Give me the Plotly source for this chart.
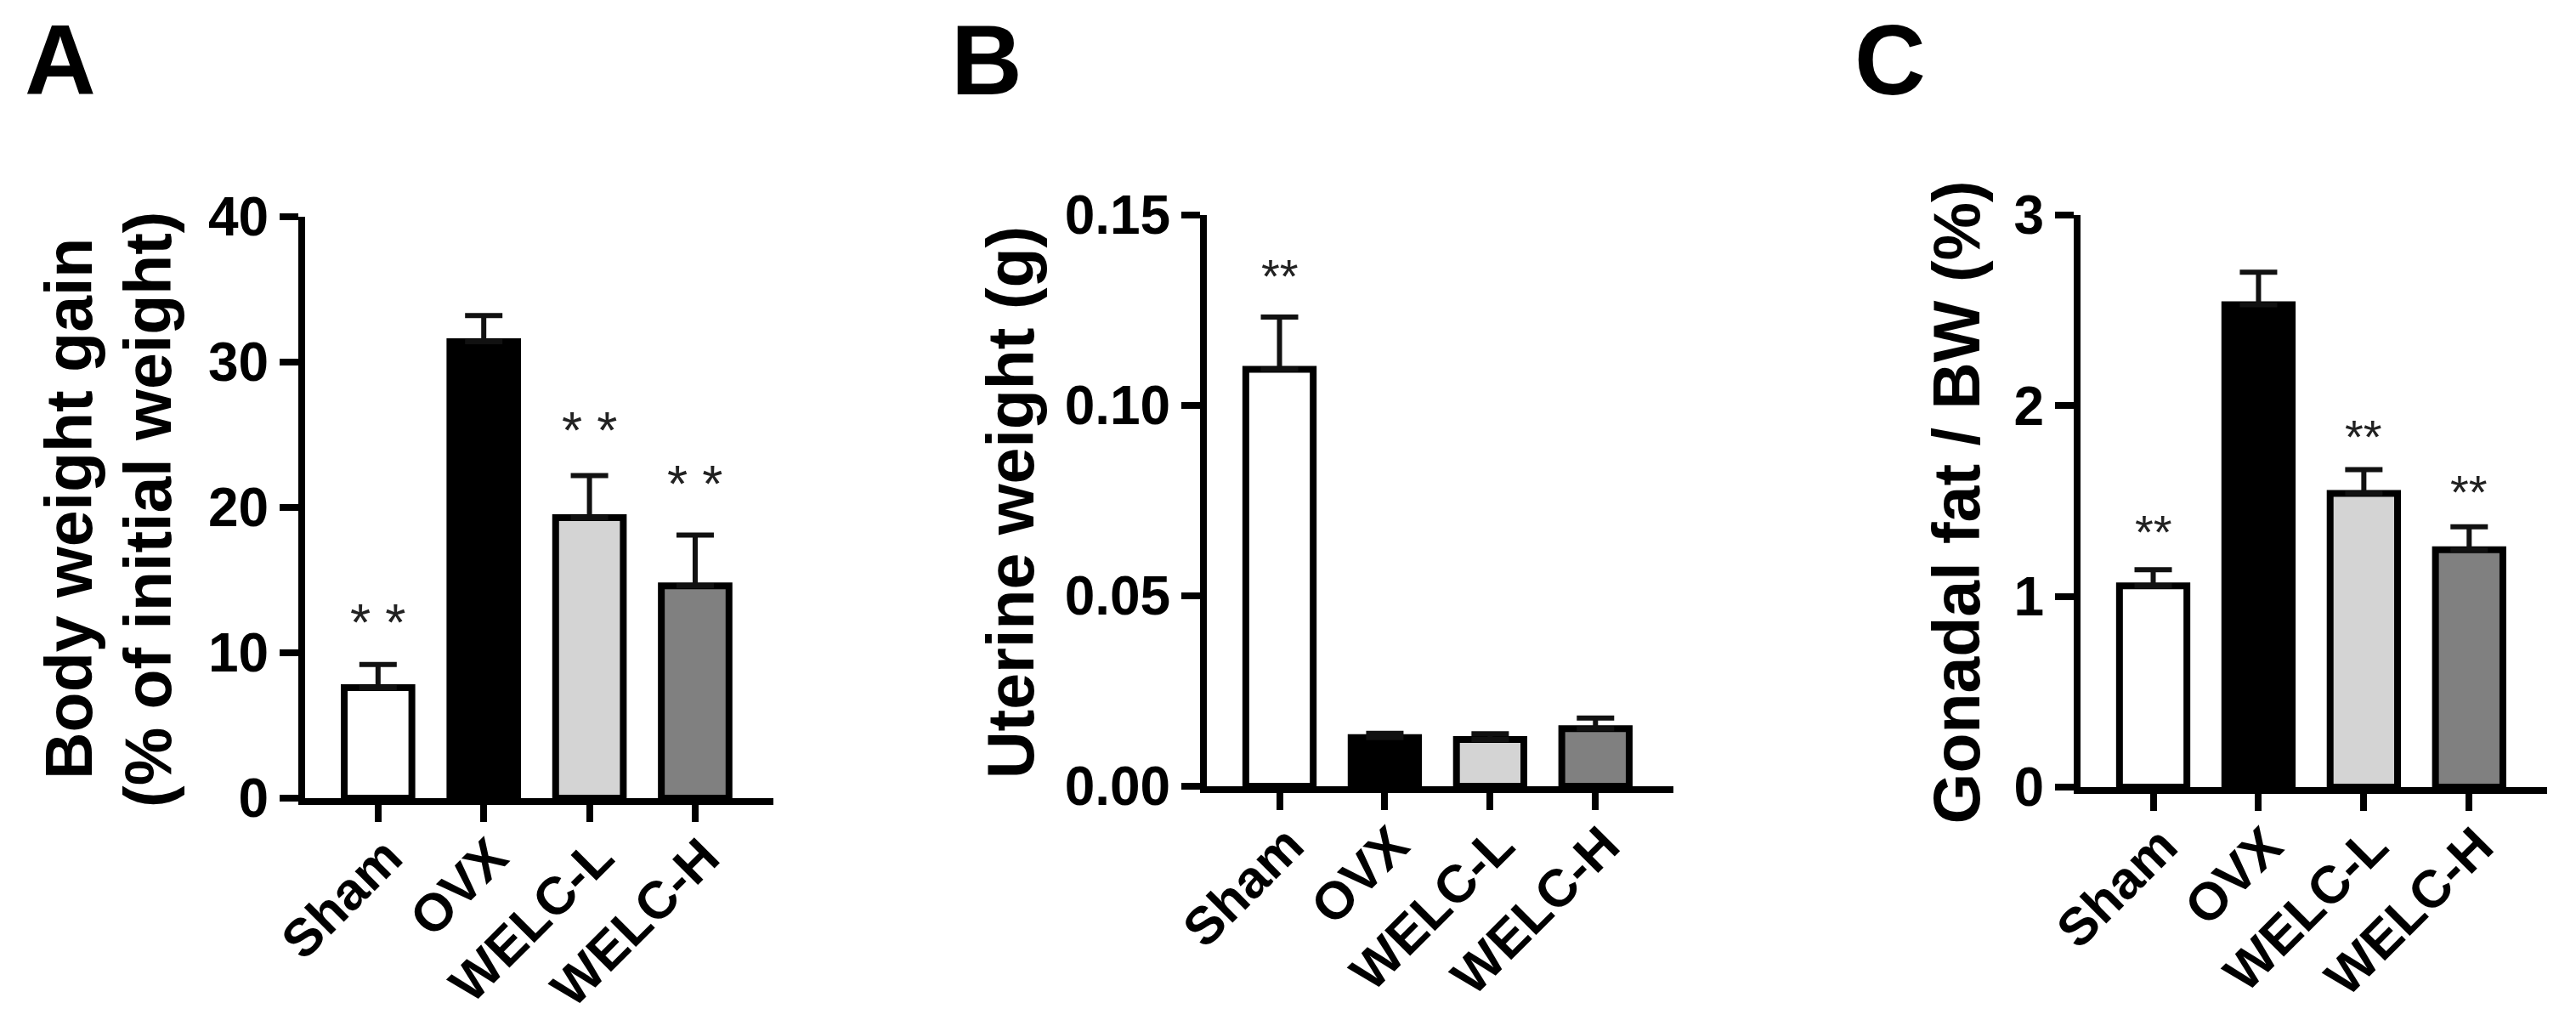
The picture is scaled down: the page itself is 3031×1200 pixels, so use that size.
import plotly.graph_objects as go

W, H = 3031, 1200

groups = ["Sham", "OVX", "WELC-L", "WELC-H"]
bar_colors = ["#ffffff", "#000000", "#d4d4d4", "#808080"]

# A: body weight gain (% of initial weight)
gain_mean = [7.6, 31.4, 19.3, 14.6]
gain_sem = [1.6, 1.8, 2.9, 3.5]
gain_stars = [13.2, None, 26.4, 22.7]

# B: uterine weight (g)
uterus_mean = [0.1095, 0.0128, 0.0123, 0.0151]
uterus_sem = [0.0137, 0.0011, 0.0015, 0.0028]
uterus_stars = [0.1376, None, None, None]

# C: gonadal fat / BW (%)
fat_mean = [1.055, 2.53, 1.54, 1.245]
fat_sem = [0.085, 0.17, 0.125, 0.12]
fat_stars = [1.41, None, 1.91, 1.62]

FONT = "Liberation Sans, Arial, sans-serif"

def fx(p):
    return p / W

def fy(p):
    return 1 - p / H

# pixel boxes of each plot area: left, right, top, bottom
panels = [
    dict(mean=gain_mean, sem=gain_sem, stars=gain_stars, star_txt="* *", star_size=62,
         tickvals=[0, 10, 20, 30, 40], ticktext=["0", "10", "20", "30", "40"],
         yrange=[0, 40], box=(351, 902, 247, 931), letter="A", letter_x=19,
         titles=[("Body weight gain", 73), ("(% of initial weight)", 166)]),
    dict(mean=uterus_mean, sem=uterus_sem, stars=uterus_stars, star_txt="**", star_size=56,
         tickvals=[0, 0.05, 0.10, 0.15], ticktext=["0.00", "0.05", "0.10", "0.15"],
         yrange=[0, 0.15], box=(1412, 1961, 245, 917), letter="B", letter_x=1109,
         titles=[("Uterine weight (g)", 1181)]),
    dict(mean=fat_mean, sem=fat_sem, stars=fat_stars, star_txt="**", star_size=56,
         tickvals=[0, 1, 2, 3], ticktext=["0", "1", "2", "3"],
         yrange=[0, 3], box=(2440, 2989, 245, 918), letter="C", letter_x=2172,
         titles=[("Gonadal fat / BW (%)", 2293)]),
]

fig = go.Figure()
annotations = []

for i, p in enumerate(panels):
    n = "" if i == 0 else str(i + 1)
    fig.add_trace(go.Bar(
        x=groups, y=p["mean"], xaxis="x" + n, yaxis="y" + n,
        width=0.64,
        marker=dict(color=bar_colors, line=dict(color="black", width=8)),
        error_y=dict(type="data", symmetric=False, array=p["sem"],
                     arrayminus=[0] * 4, color="#111111", thickness=6, width=22),
    ))
    l, r, t, b = p["box"]
    axis_common = dict(showline=True, linecolor="black", linewidth=8,
                       ticks="outside", tickwidth=8, tickcolor="black",
                       showgrid=False, zeroline=False, fixedrange=True, automargin=False)
    fig.update_layout(**{
        "xaxis" + n: dict(domain=[fx(l), fx(r)], anchor="y" + n, type="category",
                          range=[-0.69, 3.74], ticklen=20, tickangle=-45,
                          ticklabelstandoff=-20, ticklabelshift=10,
                          tickfont=dict(family=FONT, size=62, color="black", weight="bold"),
                          **axis_common),
        "yaxis" + n: dict(domain=[fy(b), fy(t)], anchor="x" + n, range=p["yrange"],
                          tickvals=p["tickvals"], ticktext=p["ticktext"], ticklen=22,
                          tickfont=dict(family=FONT, size=64, color="black", weight="bold"),
                          **axis_common),
    })
    for g, s in zip(groups, p["stars"]):
        if s is None:
            continue
        annotations.append(dict(x=g, y=s, xref="x" + n, yref="y" + n, text=p["star_txt"],
                                showarrow=False, yshift=-p["star_size"] * 0.29,
                                font=dict(family=FONT, size=p["star_size"], color="#222222")))
    ymid = fy((t + b) / 2 + 2)
    for txt, xpos in p["titles"]:
        annotations.append(dict(x=fx(xpos), y=ymid, xref="paper", yref="paper", text=txt,
                                textangle=-90, showarrow=False, xanchor="center",
                                yanchor="middle",
                                font=dict(family=FONT, size=77, color="black", weight="bold")))
    annotations.append(dict(x=fx(p["letter_x"]), y=fy(0), xref="paper", yref="paper",
                            text=p["letter"], showarrow=False, xanchor="left", yanchor="top",
                            yshift=4,
                            font=dict(family=FONT, size=116, color="black", weight="bold")))

fig.update_layout(
    width=W, height=H, margin=dict(l=0, r=0, t=0, b=0, autoexpand=False),
    paper_bgcolor="white", plot_bgcolor="white", showlegend=False,
    annotations=annotations,
)

fig.write_html("out.html")
